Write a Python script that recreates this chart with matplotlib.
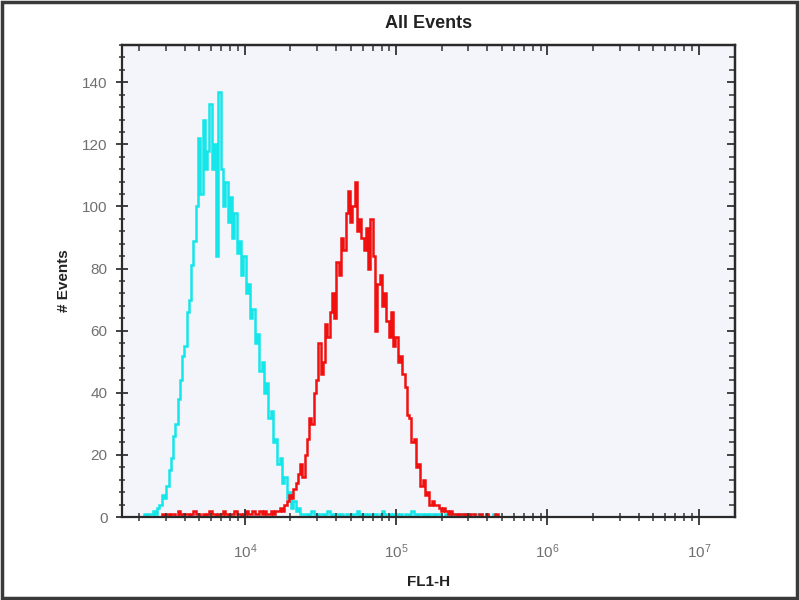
import numpy as np
import matplotlib
matplotlib.use('Agg')
import matplotlib.pyplot as plt
from matplotlib.patches import Rectangle
from matplotlib.ticker import MultipleLocator, LogLocator

# histogram channels: log10(FL1-H) grid, 0.015 decade per channel from 10^3.30
log_start = 3.30
log_step = 0.015

cyan_counts = [
    0, 0, 1, 0, 1, 1, 2, 1, 3, 4, 7, 6,
    10, 15, 19, 26, 30, 38, 44, 52, 55, 66, 70, 81,
    89, 100, 122, 104, 128, 112, 118, 133, 112, 120, 84, 137,
    112, 100, 108, 95, 103, 90, 98, 85, 89, 78, 84, 72,
    75, 64, 67, 56, 59, 47, 50, 40, 43, 32, 34, 24,
    25, 17, 19, 11, 13, 6, 8, 3, 5, 2, 3, 1,
    1, 1, 0, 1, 2, 1, 0, 1, 1, 0,
    1, 2, 1, 0, 1, 1, 0, 1, 0, 1,
    1, 0, 1, 1, 2, 0, 1, 1, 0, 1,
    0, 1, 1, 0, 1, 2, 1, 0, 1, 0,
    1, 1, 0, 1, 0, 1, 1, 0, 2, 1,
    0, 1, 1, 0, 1, 0, 1, 1, 0, 1,
    1, 0, 0, 1, 1, 0, 1, 0, 1, 1,
    0, 1, 0, 1, 0, 0, 1, 0, 1, 0,
    0, 1, 0, 0, 1, 0, 0, 0,
]

red_counts = [
    0, 0, 0, 0, 0, 0, 0, 0, 0, 0, 1, 0,
    1, 0, 1, 1, 0, 2, 1, 0, 1, 1,
    0, 1, 2, 1, 1, 0, 1, 0, 1, 2,
    1, 1, 0, 1, 1, 2, 1, 0, 1, 1,
    2, 1, 1, 0, 1, 2, 1, 1, 2, 1,
    1, 2, 1, 2, 1,
    1, 2, 1, 2, 2, 3, 2, 4, 5, 7, 6, 9,
    11, 14, 17, 13, 20, 25, 32, 30, 40, 44, 56, 46,
    50, 62, 58, 66, 72, 64, 82, 78, 90, 86, 98, 105,
    95, 100, 108, 92, 96, 90, 86, 93, 80, 96, 84, 60,
    75, 78, 68, 72, 63, 58, 66, 55, 58, 50, 52, 46,
    42, 33, 32, 24, 25, 16, 17, 10, 12, 7, 8, 4,
    5, 4, 4, 3, 2, 3, 2, 1, 2,
    1, 1, 0, 1, 1, 0, 1, 0, 1, 1, 0, 0, 1, 0, 0, 1, 0, 0, 0, 1, 0, 0,
]

y_ticks = [0, 20, 40, 60, 80, 100, 120, 140]

plt.rcParams['font.family'] = ['Liberation Sans', 'DejaVu Sans']
plt.rcParams['mathtext.fontset'] = 'custom'
plt.rcParams['mathtext.rm'] = 'Liberation Sans'
plt.rcParams['mathtext.it'] = 'Liberation Sans'

edges = 10 ** (log_start + log_step * np.arange(len(cyan_counts) + 1))

fig = plt.figure(figsize=(8, 6), dpi=100)
ax = fig.add_axes([0.1525, 0.1383, 0.766, 0.7867])
ax.set_facecolor('#f4f5fb')

ax.stairs(cyan_counts, edges, color='#14e6ea', lw=1.8)
ax.stairs(red_counts, edges, color='#f01010', lw=1.8)

ax.set_xscale('log')
ax.set_xlim(1540, 1.73e7)
ax.set_ylim(0, 152)
ax.set_yticks(y_ticks)
ax.yaxis.set_minor_locator(MultipleLocator(4))
ax.xaxis.set_major_locator(LogLocator(base=10, numticks=10))
ax.xaxis.set_minor_locator(LogLocator(base=10, subs=np.arange(2, 10), numticks=20))

for s in ax.spines.values():
    s.set_linewidth(1.6)
    s.set_color('#2a2a2a')

ax.tick_params(axis='y', which='major', direction='inout', length=9, width=1.3,
               color='#333333', labelsize=11, labelcolor='#707070', pad=6)
ax.tick_params(axis='y', which='minor', direction='inout', length=5, width=1.1,
               color='#333333')
ax.tick_params(axis='x', which='major', direction='inout', length=12, width=1.3,
               color='#333333', labelsize=11, labelcolor='#707070', pad=12)
ax.tick_params(axis='x', which='minor', direction='inout', length=6, width=1.1,
               color='#333333')

# top and right ticks point inward only
top = ax.secondary_xaxis('top')
top.xaxis.set_major_locator(LogLocator(base=10, numticks=10))
top.xaxis.set_minor_locator(LogLocator(base=10, subs=np.arange(2, 10), numticks=20))
top.tick_params(which='major', direction='in', length=7, width=1.3, color='#333333',
                labeltop=False)
top.tick_params(which='minor', direction='in', length=4, width=1.1, color='#333333')
top.spines['top'].set_linewidth(1.6)

right = ax.secondary_yaxis('right')
right.set_yticks(y_ticks)
right.yaxis.set_minor_locator(MultipleLocator(4))
right.tick_params(which='major', direction='in', length=6, width=1.3, color='#333333',
                  labelright=False)
right.tick_params(which='minor', direction='in', length=4, width=1.1, color='#333333')
right.spines['right'].set_linewidth(1.6)

ax.set_title('All Events', fontsize=13, fontweight='bold', color='#222222', pad=12)
ax.set_xlabel('FL1-H', fontsize=11, fontweight='bold', color='#222222', labelpad=10)
ax.set_ylabel('# Events', fontsize=11, fontweight='bold', color='#222222', labelpad=8)

fig.add_artist(Rectangle((0.003, 0.004), 0.993, 0.992, transform=fig.transFigure,
                         fill=False, lw=2.5, ec='#3a3a3a'))

fig.savefig('out.png', dpi=100)
